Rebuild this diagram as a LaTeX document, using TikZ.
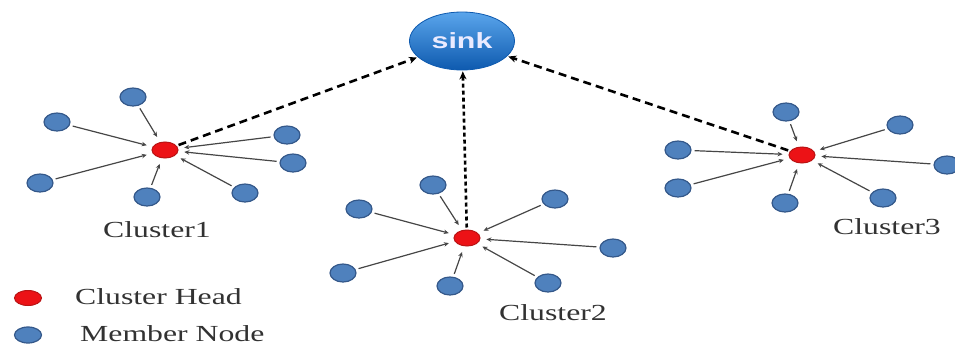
\documentclass[tikz,border=0pt]{standalone}
\usepackage{fontspec}
\setmainfont{Liberation Serif}
\newfontfamily\sinkfont{Liberation Sans}
\usetikzlibrary{shapes.geometric,arrows.meta}

\definecolor{memberfill}{RGB}{79,129,189}
\definecolor{memberline}{RGB}{52,88,138}
\definecolor{headfill}{RGB}{236,18,22}
\definecolor{headline}{RGB}{185,20,20}
\definecolor{sinktop}{RGB}{90,165,235}
\definecolor{sinkmid}{RGB}{30,120,208}
\definecolor{sinkbot}{RGB}{14,90,175}
\definecolor{labelgray}{RGB}{50,50,50}
\definecolor{linkgray}{RGB}{70,70,70}

% text in this drawing is set wide
\newcommand\widetext[1]{\scalebox{1.38}[1]{#1}}

\tikzset{
  member/.style={ellipse, fill=memberfill, draw=memberline, line width=1.2pt,
                 minimum width=26pt, minimum height=18pt, inner sep=0pt},
  head/.style={ellipse, fill=headfill, draw=headline, line width=1pt,
               minimum width=26pt, minimum height=16pt, inner sep=0pt},
  sinknode/.style={ellipse, top color=sinktop, middle color=sinkmid, bottom color=sinkbot,
                   draw=sinkbot, line width=0.8pt,
                   minimum width=105pt, minimum height=58pt, inner sep=0pt,
                   text=white!92!blue, font=\sinkfont\fontsize{22}{22}\selectfont\bfseries},
  lbl/.style={text=labelgray, font=\fontsize{23}{23}\selectfont, inner sep=0pt},
  link/.style={draw=linkgray, line width=1.2pt,
               -{Stealth[length=5pt,width=4.5pt]}, shorten <=3pt, shorten >=6pt},
  uplink/.style={draw=black, line width=2.6pt, dash pattern=on 8pt off 5pt,
                 -{Stealth[length=8pt,width=7pt]}, shorten <=2pt, shorten >=1pt},
  uplinkdense/.style={uplink, dash pattern=on 4pt off 3pt}
}

\begin{document}
\begin{tikzpicture}[x=1pt, y=-1pt]
\useasboundingbox (0,0) rectangle (955,351);

% sink
\node[sinknode] (sink) at (462,41) {\widetext{sink}};

% cluster 1
\node[head] (h1) at (165,150) {};
\node[member] (a1) at (133,97) {};
\node[member] (a2) at (57,122) {};
\node[member] (a3) at (287,135) {};
\node[member] (a4) at (293,163) {};
\node[member] (a5) at (40,183) {};
\node[member] (a6) at (147,197) {};
\node[member] (a7) at (245,193) {};
\node[lbl] (c1) at (157,230) {\widetext{Cluster1}};

% cluster 2
\node[head] (h2) at (467,238) {};
\node[member] (b1) at (433,185) {};
\node[member] (b2) at (359,209) {};
\node[member] (b3) at (555,199) {};
\node[member] (b4) at (613,248) {};
\node[member] (b5) at (343,273) {};
\node[member] (b6) at (450,286) {};
\node[member] (b7) at (548,283) {};
\node[lbl] (c2) at (553,313) {\widetext{Cluster2}};

% cluster 3
\node[head] (h3) at (802,155) {};
\node[member] (d1) at (786,112) {};
\node[member] (d2) at (678,150) {};
\node[member] (d3) at (900,125) {};
\node[member] (d4) at (947,165) {};
\node[member] (d5) at (678,188) {};
\node[member] (d6) at (785,203) {};
\node[member] (d7) at (883,198) {};
\node[lbl] (c3) at (887,227) {\widetext{Cluster3}};

% member nodes report to their cluster head
\foreach \m in {a1,a2,a3,a4,a5,a6,a7} \draw[link] (\m) -- (h1);
\foreach \m in {b1,b2,b3,b4,b5,b6,b7} \draw[link] (\m) -- (h2);
\foreach \m in {d1,d2,d3,d4,d5,d6,d7} \draw[link] (\m) -- (h3);

% cluster heads forward to the sink
\draw[uplink] (h1) -- (sink);
\draw[uplinkdense] (h2) -- (sink);
\draw[uplink] (h3) -- (sink);

% legend
\node[head, minimum width=27pt, minimum height=15pt] (lh) at (28,298) {};
\node[member, minimum width=27pt, minimum height=16pt] (lm) at (28,335) {};
\node[lbl, anchor=west] (lht) at (75,297) {\widetext{Cluster Head}};
\node[lbl, anchor=west] (lmt) at (80,334) {\widetext{Member Node}};
\end{tikzpicture}
\end{document}
